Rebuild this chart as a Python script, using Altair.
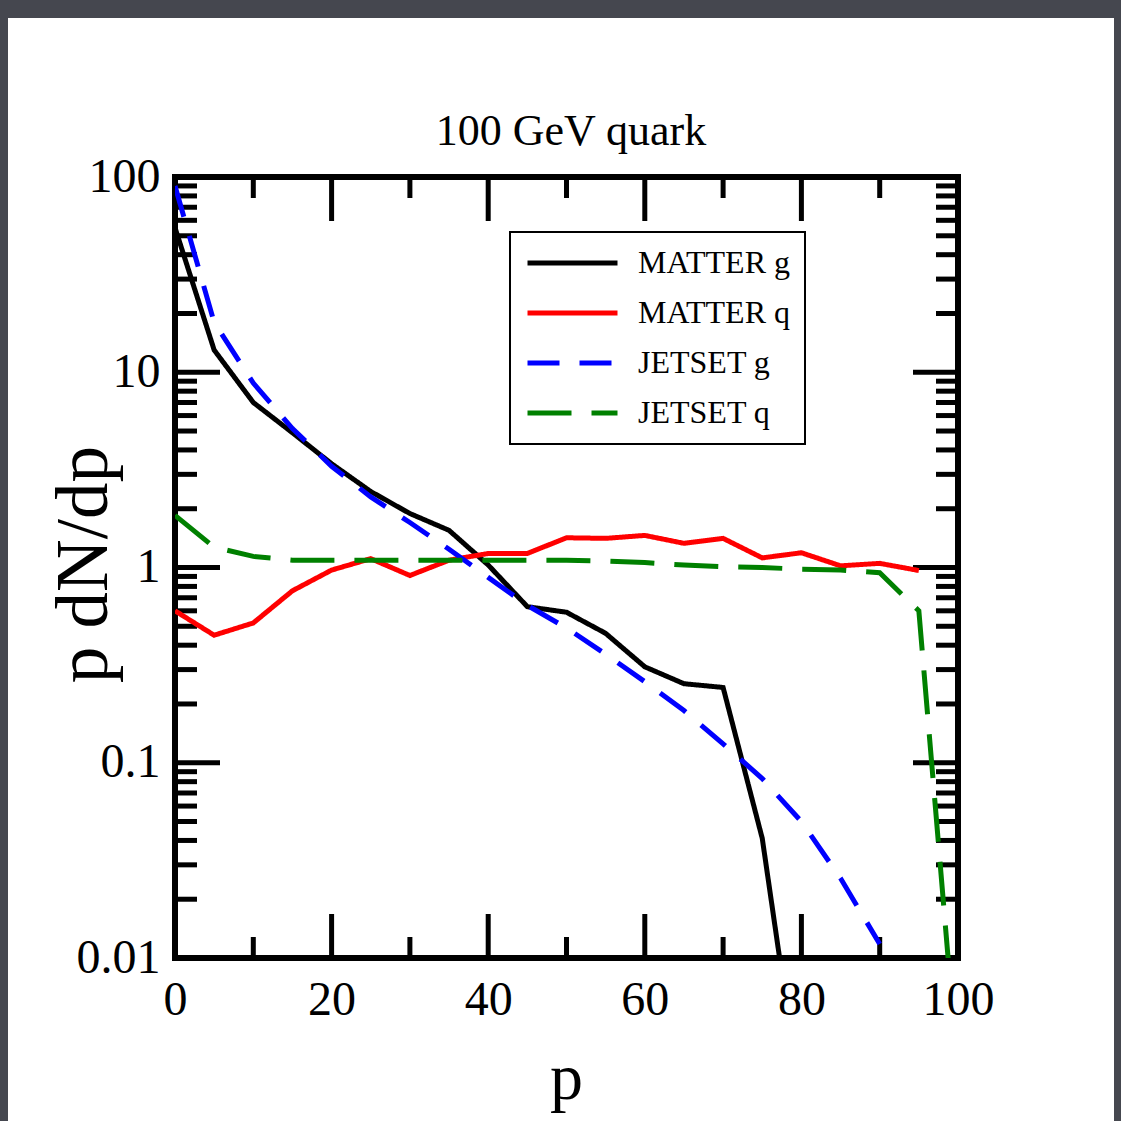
import altair as alt
import pandas as pd

# Momentum grid (GeV) and the four fragmentation spectra p dN/dp
p_grid = [0, 5, 10, 15, 20, 25, 30, 35, 40, 45, 50, 55, 60, 65, 70, 75, 80, 85, 90, 95, 100]

matter_g = [55, 13, 7.0, 4.9, 3.4, 2.45, 1.89, 1.55, 1.03, 0.63, 0.59, 0.46, 0.31, 0.254, 0.243,
            0.041, 0.0017]
matter_q = [0.60, 0.45, 0.52, 0.76, 0.97, 1.11, 0.91, 1.09, 1.18, 1.18, 1.42, 1.41, 1.46, 1.33,
            1.41, 1.12, 1.19, 1.02, 1.05, 0.965]
jetset_g = [90, 18, 8.8, 5.15, 3.3, 2.3, 1.70, 1.24, 0.89, 0.64, 0.49, 0.36, 0.26, 0.185, 0.125,
            0.083, 0.050, 0.0256, 0.0118]
jetset_q = [1.85, 1.27, 1.14, 1.09, 1.09, 1.09, 1.09, 1.09, 1.09, 1.09, 1.09, 1.08, 1.06, 1.03,
            1.01, 1.00, 0.98, 0.97, 0.94, 0.60, 0.0025]

series_names = ["MATTER g", "MATTER q", "JETSET g", "JETSET q"]
series_values = [matter_g, matter_q, jetset_g, jetset_q]
series_colors = ["#000000", "#ff0000", "#0000ff", "#008000"]
series_dashes = [[1, 0], [1, 0], [32, 20], [44, 20]]

chart_title = "100 GeV quark"

x_label_values = [0, 20, 40, 60, 80, 100]
y_label_values = [0.01, 0.1, 1, 10, 100]

x_major_ticks = [20, 40, 60, 80]
x_minor_ticks = [10, 30, 50, 70, 90]
y_major_ticks = [0.1, 1, 10]
y_minor_ticks = [k * d for d in [0.01, 0.1, 1, 10] for k in range(2, 10)]

rows = []
for name, vals in zip(series_names, series_values):
    for p, v in zip(p_grid, vals):
        rows.append({"series": name, "p": p, "val": v})
lines_df = pd.DataFrame(rows)

W, H = 783, 781
FONT = "Liberation Serif"
FRAME = "#45474f"

x_scale = alt.Scale(domain=[0, 100], nice=False, zero=False)
y_scale = alt.Scale(type="log", domain=[0.01, 100], nice=False)

x_axis = alt.Axis(values=x_label_values, ticks=False, domain=False, grid=False,
                  labelFont=FONT, labelFontSize=48, labelColor="black", labelPadding=18,
                  labelFlush=False, labelOverlap=False,
                  title="p", titleFont=FONT, titleFontSize=66, titleFontWeight="normal",
                  titleColor="black", titleBaseline="alphabetic", titleX=391, titleY=140)
y_axis = alt.Axis(values=y_label_values, format="~g", ticks=False, domain=False, grid=False,
                  labelFont=FONT, labelFontSize=48, labelColor="black", labelPadding=15,
                  labelFlush=False, labelOverlap=False,
                  title="p dN/dp", titleFont=FONT, titleFontSize=73, titleFontWeight="normal",
                  titleColor="black", titleBaseline="alphabetic", titleAngle=270,
                  titleX=-69, titleY=387)

legend = alt.Legend(title=None, orient="none", legendX=335, legendY=55,
                    symbolType="stroke", symbolSize=8100, symbolStrokeWidth=5,
                    clipHeight=32, rowPadding=18, labelFont=FONT, labelFontSize=32,
                    labelColor="black", labelOffset=18, padding=15,
                    strokeColor="black", fillColor="white")

# dark surround outside the white page
strip = alt.Chart(pd.DataFrame({"k": [0]})).mark_rect(color=FRAME)
top_strip = strip.encode(x=alt.value(-175), x2=alt.value(946), y=alt.value(-177), y2=alt.value(-159))
left_strip = strip.encode(x=alt.value(-175), x2=alt.value(-167), y=alt.value(-177), y2=alt.value(944))
right_strip = strip.encode(x=alt.value(939), x2=alt.value(946), y=alt.value(-177), y2=alt.value(944))

# panel heading above the frame
heading = alt.Chart(pd.DataFrame({"k": [0]})).mark_text(
    font=FONT, fontSize=44, color="black", align="center", baseline="alphabetic"
).encode(x=alt.value(396), y=alt.value(-32), text=alt.value(chart_title))


def x_ticks(values, length):
    base = alt.Chart(pd.DataFrame({"v": values})).mark_rule(color="black", strokeWidth=5)
    enc = dict(x=alt.X("v:Q", scale=x_scale, axis=x_axis))
    bottom = base.encode(y=alt.value(H), y2=alt.value(H - length), **enc)
    top = base.encode(y=alt.value(0), y2=alt.value(length), **enc)
    return bottom + top


def y_ticks(values, length):
    base = alt.Chart(pd.DataFrame({"v": values})).mark_rule(color="black", strokeWidth=5)
    enc = dict(y=alt.Y("v:Q", scale=y_scale, axis=y_axis))
    left = base.encode(x=alt.value(0), x2=alt.value(length), **enc)
    right = base.encode(x=alt.value(W), x2=alt.value(W - length), **enc)
    return left + right


ticks = x_ticks(x_major_ticks, 44) + x_ticks(x_minor_ticks, 21) + \
    y_ticks(y_major_ticks, 45) + y_ticks(y_minor_ticks, 22)

lines = alt.Chart(lines_df).mark_line(strokeWidth=5, clip=True).encode(
    x=alt.X("p:Q", scale=x_scale, axis=x_axis),
    y=alt.Y("val:Q", scale=y_scale, axis=y_axis),
    color=alt.Color("series:N", scale=alt.Scale(domain=series_names, range=series_colors),
                    legend=legend),
    strokeDash=alt.StrokeDash("series:N",
                              scale=alt.Scale(domain=series_names, range=series_dashes),
                              legend=legend),
    detail="series:N",
)

chart = alt.layer(top_strip, left_strip, right_strip, heading, ticks, lines).properties(
    width=W,
    height=H,
    autosize=alt.AutoSizeParams(type="none"),
    padding={"left": 175, "top": 177, "right": 163, "bottom": 163},
).configure(background="white").configure_view(
    stroke="black", strokeWidth=6, fill="white"
).configure_legend(strokeWidth=2)

chart.save("out.html", embed_options={"renderer": "svg", "actions": False})
